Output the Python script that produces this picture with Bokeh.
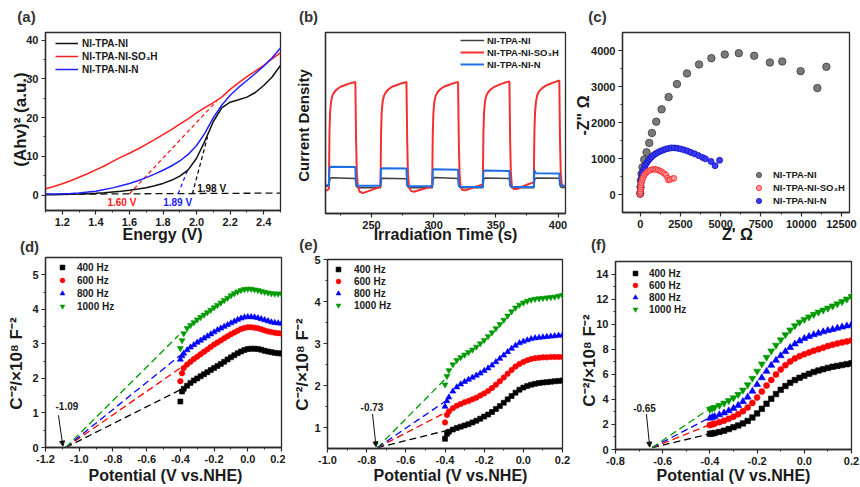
import math
from bokeh.plotting import figure
from bokeh.models import (Range1d, FixedTicker, PrintfTickFormatter, Legend, LegendItem,
                          Label, Arrow, NormalHead, GridBox, Column)
from bokeh.embed import file_html
from bokeh.resources import INLINE

# ---------------- data: (a) Tauc plot ----------------
a_energy = [1.10, 1.15, 1.20, 1.25, 1.30, 1.35, 1.40, 1.45, 1.50, 1.55, 1.60, 1.65, 1.70, 1.75,
            1.80, 1.85, 1.90, 1.95, 2.00, 2.05, 2.10, 2.15, 2.20, 2.25, 2.30, 2.35, 2.40, 2.45, 2.50]
a_black = [0.1, 0.1, 0.15, 0.2, 0.25, 0.35, 0.45, 0.6, 0.8, 1.0, 1.25, 1.55, 1.9, 2.4, 3.0, 3.8,
           4.9, 6.5, 9.5, 14.0, 19.0, 22.5, 24.0, 24.6, 25.3, 26.5, 28.3, 30.5, 33.5]
a_red = [1.6, 2.2, 2.9, 3.7, 4.6, 5.5, 6.5, 7.5, 8.7, 9.8, 10.8, 11.9, 13.1, 14.3, 15.6, 16.9,
         18.3, 19.7, 21.2, 22.6, 23.9, 25.3, 27.3, 29.0, 30.6, 32.0, 33.5, 35.2, 36.8]
a_blue = [0.2, 0.25, 0.3, 0.4, 0.55, 0.75, 1.0, 1.4, 1.85, 2.4, 3.0, 3.7, 4.5, 5.4, 6.4, 7.5,
          8.8, 10.5, 12.8, 16.0, 20.0, 23.2, 25.8, 27.8, 29.6, 31.4, 33.3, 35.5, 38.0]
a_base_x = [1.10, 2.50]
a_base_y = [0.2, 0.5]
a_tan_red_x, a_tan_red_y = [1.60, 2.12], [0.3, 24.3]
a_tan_blue_x, a_tan_blue_y = [1.89, 1.95], [0.3, 6.8]
a_tan_black_x, a_tan_black_y = [1.975, 2.065], [0.3, 15.0]
a_gap_text = ["1.60 V", "1.89 V", "1.98 V"]
a_gap_x = [1.555, 1.887, 2.09]
a_gap_y = [-1.9, -1.9, 1.7]
series_names = ["NI-TPA-NI", "NI-TPA-NI-SO\u2083H", "NI-TPA-NI-N"]

# ---------------- data: (b) photocurrent ----------------
b_black = [(213, 0.150), (215.7, 0.150), (216.5, 0.19), (217.5, 0.197), (237.0, 0.193), (237.8, 0.15),
           (239, 0.142), (257.2, 0.142), (258.0, 0.19), (259, 0.195), (278.1, 0.192), (278.9, 0.15),
           (280, 0.142), (298.8, 0.142), (299.6, 0.19), (300.6, 0.199), (319.6, 0.193), (320.4, 0.15),
           (321.5, 0.142), (339.5, 0.142), (340.3, 0.19), (341.3, 0.196), (360.9, 0.193), (361.7, 0.15),
           (362.8, 0.142), (380.5, 0.142), (381.3, 0.19), (382.3, 0.196), (401.0, 0.195), (401.8, 0.15),
           (403, 0.143), (406, 0.143)]
b_red = [(213, 0.125), (215.7, 0.135),
         (216.2, 0.45), (216.7, 0.56), (217.5, 0.62), (218.5, 0.65), (220, 0.67), (222, 0.685),
         (225, 0.70), (229, 0.71), (233, 0.72), (237.0, 0.727),
         (237.6, 0.40), (238.2, 0.22), (239, 0.15), (240.5, 0.12), (243, 0.113), (247, 0.122),
         (252, 0.135), (257.2, 0.148),
         (257.7, 0.45), (258.2, 0.56), (259, 0.62), (260, 0.65), (261.5, 0.67), (263.5, 0.685),
         (266.5, 0.70), (270.5, 0.71), (274.5, 0.72), (278.1, 0.727),
         (278.7, 0.40), (279.3, 0.22), (280.1, 0.15), (281.6, 0.125), (284, 0.12), (288, 0.128),
         (293, 0.138), (298.8, 0.15),
         (299.3, 0.45), (299.8, 0.56), (300.6, 0.62), (301.6, 0.65), (303.1, 0.67), (305.1, 0.685),
         (308.1, 0.70), (312.1, 0.71), (316.1, 0.72), (319.6, 0.727),
         (320.2, 0.40), (320.8, 0.22), (321.6, 0.15), (323.1, 0.13), (325.5, 0.128), (329.5, 0.138),
         (334.5, 0.15), (339.5, 0.16),
         (340.0, 0.45), (340.5, 0.56), (341.3, 0.62), (342.3, 0.65), (343.8, 0.67), (345.8, 0.685),
         (348.8, 0.70), (352.8, 0.712), (356.8, 0.722), (360.9, 0.73),
         (361.5, 0.40), (362.1, 0.22), (362.9, 0.15), (364.4, 0.135), (367, 0.135), (371, 0.148),
         (376, 0.162), (380.5, 0.172),
         (381.0, 0.45), (381.5, 0.56), (382.3, 0.62), (383.3, 0.655), (384.8, 0.675), (386.8, 0.69),
         (389.8, 0.705), (393.8, 0.717), (397.8, 0.727), (401.0, 0.735),
         (401.6, 0.40), (402.2, 0.22), (403, 0.16), (404.5, 0.15), (406, 0.15)]
b_blue = [(213, 0.157), (215.7, 0.155), (216.2, 0.25), (217, 0.258), (237.0, 0.257), (237.5, 0.16),
          (238.5, 0.153), (257.2, 0.153), (257.7, 0.245), (258.5, 0.250), (278.1, 0.248), (278.6, 0.16),
          (279.6, 0.151), (298.8, 0.151), (299.3, 0.24), (300.1, 0.244), (319.6, 0.242), (320.1, 0.155),
          (321.1, 0.147), (339.5, 0.147), (340.0, 0.232), (340.8, 0.237), (360.9, 0.235), (361.4, 0.155),
          (362.4, 0.147), (380.5, 0.147), (381.0, 0.24), (381.5, 0.23), (382.5, 0.222), (401.0, 0.221),
          (401.5, 0.16), (402.5, 0.153), (406, 0.153)]

# ---------------- data: (c) Nyquist ----------------
c_gray_x = [0, 21, 42, 83, 145, 249, 394, 560, 727, 996, 1329, 1765, 2284, 2906, 3654, 4422,
            5252, 6124, 7079, 8055, 8823, 9965, 11003, 11563]
c_gray_y = [37, 203, 388, 573, 757, 970, 1173, 1432, 1709, 2023, 2365, 2707, 3067, 3363, 3612,
            3788, 3889, 3926, 3852, 3667, 3695, 3427, 2956, 3547]
c_red_x = [0, 5, 10, 20, 35, 55, 80, 110, 150, 200, 260, 330, 410, 500, 600, 700, 800, 900, 1000,
           1100, 1200, 1300, 1400, 1500, 1600, 1700, 1750, 1850, 2000, 2100]
c_red_y = [0, 40, 90, 150, 210, 270, 330, 390, 440, 490, 540, 580, 620, 650, 670, 690, 700, 700,
           695, 680, 660, 640, 610, 580, 540, 460, 400, 410, 440, 450]
c_blue_x = [0, 10, 25, 45, 70, 100, 140, 190, 250, 320, 400, 490, 590, 700, 820, 950, 1090, 1240,
            1400, 1570, 1750, 1930, 2120, 2310, 2510, 2720, 2930, 3150, 3380, 3620, 3870, 4050,
            4400, 4650, 4930]
c_blue_y = [0, 100, 200, 300, 400, 500, 590, 670, 750, 820, 880, 940, 990, 1040, 1090, 1130, 1170,
            1200, 1230, 1260, 1280, 1295, 1295, 1285, 1265, 1240, 1210, 1170, 1130, 1080, 1030, 990,
            920, 800, 950]

# ---------------- data: (d)(e)(f) Mott-Schottky ----------------
freq_labels = ["400 Hz", "600 Hz", "800 Hz", "1000 Hz"]
ms_potential = [-0.40, -0.39, -0.38, -0.36, -0.34, -0.32, -0.30, -0.28, -0.26, -0.24, -0.22, -0.20,
                -0.18, -0.16, -0.14, -0.12, -0.10, -0.08, -0.06, -0.04, -0.02, 0.00, 0.02, 0.04,
                0.06, 0.08, 0.10, 0.12, 0.14, 0.16, 0.18, 0.20]
d_400 = [1.33, 1.62, 1.70, 1.79, 1.87, 1.94, 2.00, 2.06, 2.12, 2.18, 2.24, 2.30, 2.36, 2.42, 2.48,
         2.55, 2.61, 2.67, 2.73, 2.78, 2.82, 2.85, 2.86, 2.86, 2.85, 2.83, 2.80, 2.78, 2.76, 2.74,
         2.73, 2.72]
d_600 = [1.92, 2.15, 2.30, 2.40, 2.48, 2.56, 2.63, 2.70, 2.77, 2.84, 2.91, 2.98, 3.04, 3.10, 3.16,
         3.22, 3.28, 3.33, 3.38, 3.43, 3.46, 3.48, 3.48, 3.47, 3.45, 3.42, 3.39, 3.36, 3.34, 3.32,
         3.31, 3.30]
d_800 = [2.55, 2.65, 2.72, 2.82, 2.90, 2.97, 3.04, 3.10, 3.16, 3.22, 3.28, 3.34, 3.40, 3.45, 3.50,
         3.55, 3.60, 3.65, 3.70, 3.74, 3.77, 3.78, 3.78, 3.77, 3.75, 3.72, 3.69, 3.66, 3.63, 3.61,
         3.60, 3.59]
d_1000 = [2.87, 3.10, 3.30, 3.45, 3.54, 3.62, 3.70, 3.77, 3.84, 3.91, 3.98, 4.05, 4.12, 4.19, 4.26,
          4.33, 4.40, 4.46, 4.51, 4.55, 4.58, 4.59, 4.59, 4.57, 4.55, 4.52, 4.50, 4.48, 4.46, 4.45,
          4.45, 4.45]
e_400 = [0.73, 0.85, 0.90, 0.95, 0.99, 1.02, 1.05, 1.08, 1.12, 1.16, 1.21, 1.26, 1.31, 1.37, 1.44,
         1.51, 1.59, 1.67, 1.75, 1.83, 1.90, 1.95, 1.99, 2.02, 2.04, 2.06, 2.07, 2.08, 2.09, 2.10,
         2.11, 2.12]
e_600 = [1.12, 1.30, 1.38, 1.46, 1.52, 1.56, 1.60, 1.63, 1.67, 1.71, 1.76, 1.81, 1.87, 1.94, 2.02,
         2.10, 2.19, 2.28, 2.37, 2.45, 2.51, 2.56, 2.60, 2.63, 2.65, 2.66, 2.67, 2.67, 2.68, 2.68,
         2.68, 2.68]
e_800 = [1.50, 1.63, 1.72, 1.86, 1.96, 2.03, 2.09, 2.14, 2.19, 2.24, 2.29, 2.35, 2.41, 2.48, 2.56,
         2.64, 2.72, 2.80, 2.88, 2.95, 3.01, 3.05, 3.08, 3.11, 3.13, 3.14, 3.15, 3.16, 3.17, 3.18,
         3.19, 3.20]
e_1000 = [2.02, 2.22, 2.36, 2.50, 2.60, 2.67, 2.73, 2.79, 2.85, 2.92, 3.00, 3.08, 3.17, 3.26, 3.36,
          3.46, 3.56, 3.66, 3.76, 3.85, 3.92, 3.97, 4.01, 4.04, 4.06, 4.07, 4.08, 4.09, 4.10, 4.11,
          4.13, 4.15]
f_400 = [1.25, 1.28, 1.32, 1.40, 1.50, 1.63, 1.78, 1.92, 2.08, 2.28, 2.55, 2.88, 3.25, 3.65, 4.05,
         4.42, 4.76, 5.06, 5.32, 5.54, 5.72, 5.88, 6.04, 6.18, 6.30, 6.41, 6.51, 6.60, 6.67, 6.74,
         6.81, 6.88]
f_600 = [1.95, 2.00, 2.06, 2.18, 2.30, 2.45, 2.62, 2.82, 3.06, 3.35, 3.72, 4.15, 4.62, 5.10, 5.55,
         5.98, 6.38, 6.72, 7.02, 7.26, 7.45, 7.60, 7.74, 7.88, 8.00, 8.12, 8.25, 8.36, 8.46, 8.54,
         8.62, 8.70]
f_800 = [2.50, 2.56, 2.63, 2.77, 2.92, 3.09, 3.28, 3.52, 3.82, 4.18, 4.65, 5.18, 5.72, 6.24, 6.72,
         7.12, 7.48, 7.82, 8.14, 8.42, 8.66, 8.86, 9.02, 9.16, 9.28, 9.39, 9.49, 9.58, 9.68, 9.77,
         9.86, 9.95]
f_1000 = [3.20, 3.28, 3.36, 3.52, 3.70, 3.90, 4.12, 4.40, 4.74, 5.16, 5.68, 6.25, 6.82, 7.36, 7.86,
          8.32, 8.75, 9.16, 9.54, 9.88, 10.16, 10.38, 10.58, 10.78, 10.96, 11.12, 11.28, 11.45,
          11.62, 11.80, 12.00, 12.20]
d_ext_start = (-1.08, 0.0)
d_ext_end_x = [-0.38, -0.40, -0.40, -0.41]
d_ext_end_y = [1.72, 2.30, 2.67, 3.25]
e_ext_start = (-0.745, 0.52)
e_ext_end_x = [-0.39, -0.40, -0.40, -0.40]
e_ext_end_y = [0.93, 1.35, 1.62, 2.15]
f_ext_start = (-0.645, 0.15)
f_ext_end_x = [-0.41, -0.41, -0.41, -0.41]
f_ext_end_y = [1.20, 1.90, 2.45, 3.15]
d_fb = ("-1.09", (-1.073, 1.2), (-1.123, 0.93), (-1.097, 0.04))
e_fb = ("-0.73", (-0.773, 1.48), (-0.770, 1.32), (-0.752, 0.54))
f_fb = ("-0.65", (-0.677, 3.28), (-0.669, 2.83), (-0.655, 0.19))

# ---------------- style ----------------
FONT = "Liberation Sans"
TXT = "#1a1a1a"
FRAME = "#2b2b2b"
MS_COLORS = ["#000000", "#ff0000", "#0000ff", "#009a00"]
MS_MARKERS = ["square", "circle", "triangle", "inverted_triangle"]
W, H = 860, 487


class Panel:
    def __init__(self, ox, oy, w, h, fl, ft, fr, fb, xr, yr):
        self.fl, self.ft, self.fr, self.fb = fl, ft, fr, fb
        self.xr, self.yr = xr, yr
        p = figure(width=w, height=h, x_range=Range1d(*xr), y_range=Range1d(*yr),
                   output_backend="svg", toolbar_location=None,
                   min_border_left=fl - ox, min_border_right=ox + w - fr,
                   min_border_top=ft - oy, min_border_bottom=oy + h - fb)
        p.xgrid.visible = False
        p.ygrid.visible = False
        p.outline_line_color = FRAME
        p.outline_line_width = 1.3
        p.background_fill_color = "white"
        p.border_fill_color = "white"
        for ax in (p.xaxis[0], p.yaxis[0]):
            ax.axis_line_color = FRAME
            ax.axis_line_width = 1.3
            ax.major_tick_in = 0
            ax.major_tick_out = 4
            ax.minor_tick_in = 0
            ax.minor_tick_out = 2
            ax.major_tick_line_color = FRAME
            ax.minor_tick_line_color = FRAME
            ax.major_tick_line_width = 1.2
            ax.minor_tick_line_width = 1.0
            ax.major_label_text_font = FONT
            ax.major_label_text_font_style = "bold"
            ax.major_label_text_font_size = "11px"
            ax.major_label_text_color = TXT
            ax.major_label_standoff = 3
        self.p = p

    def ticks(self, xt, xm, yt, ym, xfmt=None, yfmt=None):
        self.p.xaxis[0].ticker = FixedTicker(ticks=xt, minor_ticks=xm)
        self.p.yaxis[0].ticker = FixedTicker(ticks=yt, minor_ticks=ym)
        if xfmt:
            self.p.xaxis[0].formatter = PrintfTickFormatter(format=xfmt)
        if yfmt:
            self.p.yaxis[0].formatter = PrintfTickFormatter(format=yfmt)

    def legend(self, items, glyph_left, first_center, row_h, gap, glyph_w, standoff, size="10px"):
        pad = 1
        n = len(items)
        height = 2 * pad + n * row_h + (n - 1) * gap
        fh = self.fb - self.ft
        top_off = first_center - self.ft - row_h / 2 - pad
        loc = (glyph_left - self.fl - pad, fh - top_off - height)
        leg = Legend(items=items, location=loc, orientation="vertical", padding=pad, margin=0,
                     spacing=gap, glyph_width=glyph_w, glyph_height=row_h, label_height=row_h,
                     label_width=10, label_standoff=standoff, label_text_font=FONT,
                     label_text_font_style="bold", label_text_font_size=size,
                     label_text_color=TXT, border_line_alpha=0, background_fill_alpha=0)
        self.p.add_layout(leg)


# transparent overlay figure covering the whole page, used for texts outside the frames
ov = figure(width=W, height=H, x_range=Range1d(0, W), y_range=Range1d(0, H),
            output_backend="svg", toolbar_location=None,
            min_border_left=0, min_border_right=0, min_border_top=0, min_border_bottom=0)
ov.axis.visible = False
ov.xgrid.visible = False
ov.ygrid.visible = False
ov.outline_line_color = None
ov.background_fill_alpha = 0
ov.border_fill_alpha = 0


def olabel(px, py, text, size="16px", angle=0.0, color=TXT):
    ov.add_layout(Label(x=px, y=H - py, text=text, angle=angle, text_font=FONT,
                        text_font_style="bold", text_font_size=size, text_color=color,
                        text_align="center", text_baseline="middle"))


# ---------------- (a) ----------------
A = Panel(0, 0, 285, 243, 45, 32, 280, 210, (1.1, 2.5), (-4, 42))
A.ticks([1.2, 1.4, 1.6, 1.8, 2.0, 2.2, 2.4], [1.1, 1.3, 1.5, 1.7, 1.9, 2.1, 2.3, 2.5],
        [0, 10, 20, 30, 40], [5, 15, 25, 35], xfmt="%.1f")
pa = A.p
pa.line(a_base_x, a_base_y, line_color="#111111", line_width=1.3, line_dash="7 4")
pa.line(a_tan_red_x, a_tan_red_y, line_color="#ff2020", line_width=1.3, line_dash="4 3")
pa.line(a_tan_blue_x, a_tan_blue_y, line_color="#2020ff", line_width=1.3, line_dash="4 3")
pa.line(a_tan_black_x, a_tan_black_y, line_color="#111111", line_width=1.3, line_dash="4 3")
ra_k = pa.line(a_energy, a_black, line_color="#111111", line_width=1.5)
ra_r = pa.line(a_energy, a_red, line_color="#ff2020", line_width=1.5)
ra_b = pa.line(a_energy, a_blue, line_color="#2020ff", line_width=1.5)
for t, x, y, col in zip(a_gap_text, a_gap_x, a_gap_y, ["#ff2020", "#2020ff", "#111111"]):
    pa.add_layout(Label(x=x, y=y, text=t, text_font=FONT, text_font_style="bold",
                        text_font_size="10px", text_color=col, text_align="center",
                        text_baseline="middle"))
A.legend([LegendItem(label=series_names[0], renderers=[ra_k]),
          LegendItem(label=series_names[1], renderers=[ra_r]),
          LegendItem(label=series_names[2], renderers=[ra_b])],
         glyph_left=55, first_center=43, row_h=12, gap=1, glyph_w=23, standoff=4)
olabel(162, 234, "Energy (V)")
olabel(20, 119, "(Ahv)\u00b2 (a.u.)", size="17px", angle=math.pi / 2)
olabel(26, 16, "(a)", size="15px", color="#333333")

# ---------------- (b) ----------------
B = Panel(285, 0, 285, 243, 325, 32, 565, 213, (213, 406), (0, 1))
B.ticks([250, 300, 350, 400], [225, 275, 325, 375], [], [])
pb = B.p
rb_k = pb.line([t for t, _ in b_black], [v for _, v in b_black], line_color="#404040", line_width=1.5)
rb_r = pb.line([t for t, _ in b_red], [v for _, v in b_red], line_color="#f23030", line_width=2)
rb_b = pb.line([t for t, _ in b_blue], [v for _, v in b_blue], line_color="#1e6ee6", line_width=2)
B.legend([LegendItem(label=series_names[0], renderers=[rb_k]),
          LegendItem(label=series_names[1], renderers=[rb_r]),
          LegendItem(label=series_names[2], renderers=[rb_b])],
         glyph_left=460, first_center=40, row_h=12, gap=0, glyph_w=24, standoff=3, size="9.5px")
olabel(445, 234, "Irradiation Time (s)")
olabel(303, 125, "Current Density", size="15px", angle=math.pi / 2)
olabel(308, 16, "(b)", size="15px", color="#333333")

# ---------------- (c) ----------------
C = Panel(570, 0, 290, 243, 622, 32, 849, 212, (-1100, 13000), (-500, 4500))
C.ticks([0, 2500, 5000, 7500, 10000, 12500], [1250, 3750, 6250, 8750, 11250],
        [0, 1000, 2000, 3000, 4000], [500, 1500, 2500, 3500])
pc = C.p
rc_k = pc.scatter(c_gray_x, c_gray_y, marker="circle", size=7.5, fill_color="#7a7a7a",
                  line_color="#3c3c3c", line_width=0.8)
rc_b = pc.scatter(c_blue_x, c_blue_y, marker="circle", size=6, fill_color="#3a3aff",
                  line_color="#1010b0", line_width=0.8)
rc_r = pc.scatter(c_red_x, c_red_y, marker="circle", size=5.5, fill_color="#ff9a9a",
                  line_color="#ff2a2a", line_width=0.9)
C.legend([LegendItem(label=series_names[0], renderers=[rc_k]),
          LegendItem(label=series_names[1], renderers=[rc_r]),
          LegendItem(label=series_names[2], renderers=[rc_b])],
         glyph_left=751, first_center=174, row_h=13, gap=0, glyph_w=15, standoff=7, size="9.5px")
olabel(737, 234, "Z' \u03a9")
olabel(583, 115, "-Z\" \u03a9", angle=math.pi / 2)
olabel(597, 16, "(c)", size="15px", color="#333333")


# ---------------- (d)(e)(f) ----------------
def mott(P, series, sizes, ext_start, ext_end_x, ext_end_y, fb, legend_args, xlab_x, ylab, plabel):
    p = P.p
    for col, ex, ey in zip(MS_COLORS, ext_end_x, ext_end_y):
        p.line([ext_start[0], ex], [ext_start[1], ey], line_color=col, line_width=1.3,
               line_dash="7 4")
    rs = []
    for vals, col, mk, sz in zip(series, MS_COLORS, MS_MARKERS, sizes):
        rs.append(p.scatter(ms_potential, vals, marker=mk, size=sz, fill_color=col,
                            line_color=col, line_width=0.6))
    text, tpos, astart, aend = fb
    p.add_layout(Label(x=tpos[0], y=tpos[1], text=text, text_font=FONT, text_font_style="bold",
                       text_font_size="10px", text_color=TXT, text_align="center",
                       text_baseline="middle"))
    p.add_layout(Arrow(x_start=astart[0], y_start=astart[1], x_end=aend[0], y_end=aend[1],
                       line_color="#111111", line_width=1,
                       end=NormalHead(size=5, fill_color="#111111", line_color="#111111")))
    P.legend([LegendItem(label=l, renderers=[r]) for l, r in zip(freq_labels, rs)], **legend_args)
    olabel(xlab_x, 475, "Potential (V vs.NHE)")
    olabel(ylab[0], ylab[1], "C\u207b\u00b2/\u00d710\u2078 F\u207b\u00b2", size="17px",
           angle=math.pi / 2)
    olabel(plabel[0], plabel[1], plabel[2], size="15px", color="#333333")


D = Panel(0, 243, 285, 244, 45, 257, 281, 447, (-1.2, 0.2), (0, 5.5))
D.ticks([-1.2, -1.0, -0.8, -0.6, -0.4, -0.2, 0.0, 0.2], [-1.1, -0.9, -0.7, -0.5, -0.3, -0.1, 0.1],
        [0, 1, 2, 3, 4, 5], [0.5, 1.5, 2.5, 3.5, 4.5], xfmt="%.1f")
mott(D, [d_400, d_600, d_800, d_1000], [5, 5.5, 6, 6], d_ext_start, d_ext_end_x, d_ext_end_y,
     d_fb, dict(glyph_left=56, first_center=267, row_h=12, gap=1, glyph_w=12, standoff=9),
     165, (16, 363), (29, 246, "(d)"))

E = Panel(285, 243, 285, 244, 327, 259, 562, 448, (-1.0, 0.2), (0.5, 5.0))
E.ticks([-1.0, -0.8, -0.6, -0.4, -0.2, 0.0, 0.2], [-0.9, -0.7, -0.5, -0.3, -0.1, 0.1],
        [1, 2, 3, 4, 5], [1.5, 2.5, 3.5, 4.5], xfmt="%.1f")
mott(E, [e_400, e_600, e_800, e_1000], [5, 5.5, 6, 6], e_ext_start, e_ext_end_x, e_ext_end_y,
     e_fb, dict(glyph_left=332, first_center=269, row_h=12, gap=0, glyph_w=12, standoff=10),
     450, (302, 364), (308, 244, "(e)"))

F = Panel(570, 243, 290, 244, 615, 261, 851, 449, (-0.8, 0.2), (0, 15))
F.ticks([-0.8, -0.6, -0.4, -0.2, 0.0, 0.2], [-0.7, -0.5, -0.3, -0.1, 0.1],
        [0, 2, 4, 6, 8, 10, 12, 14], [1, 3, 5, 7, 9, 11, 13], xfmt="%.1f")
mott(F, [f_400, f_600, f_800, f_1000], [5.5, 6, 7, 7], f_ext_start, f_ext_end_x, f_ext_end_y,
     f_fb, dict(glyph_left=629, first_center=273, row_h=12, gap=0, glyph_w=12, standoff=8),
     733, (589, 360), (598, 244, "(f)"))


def wrap(fig):
    # own container, so the grid does not align borders of different panels
    return Column(children=[fig], spacing=0)


grid = GridBox(children=[(wrap(A.p), 0, 0), (wrap(B.p), 0, 1), (wrap(C.p), 0, 2),
                         (wrap(D.p), 1, 0), (wrap(E.p), 1, 1), (wrap(F.p), 1, 2),
                         (wrap(ov), 0, 0, 2, 3)],
               spacing=0)
open("out.html", "w").write(file_html(grid, INLINE))
